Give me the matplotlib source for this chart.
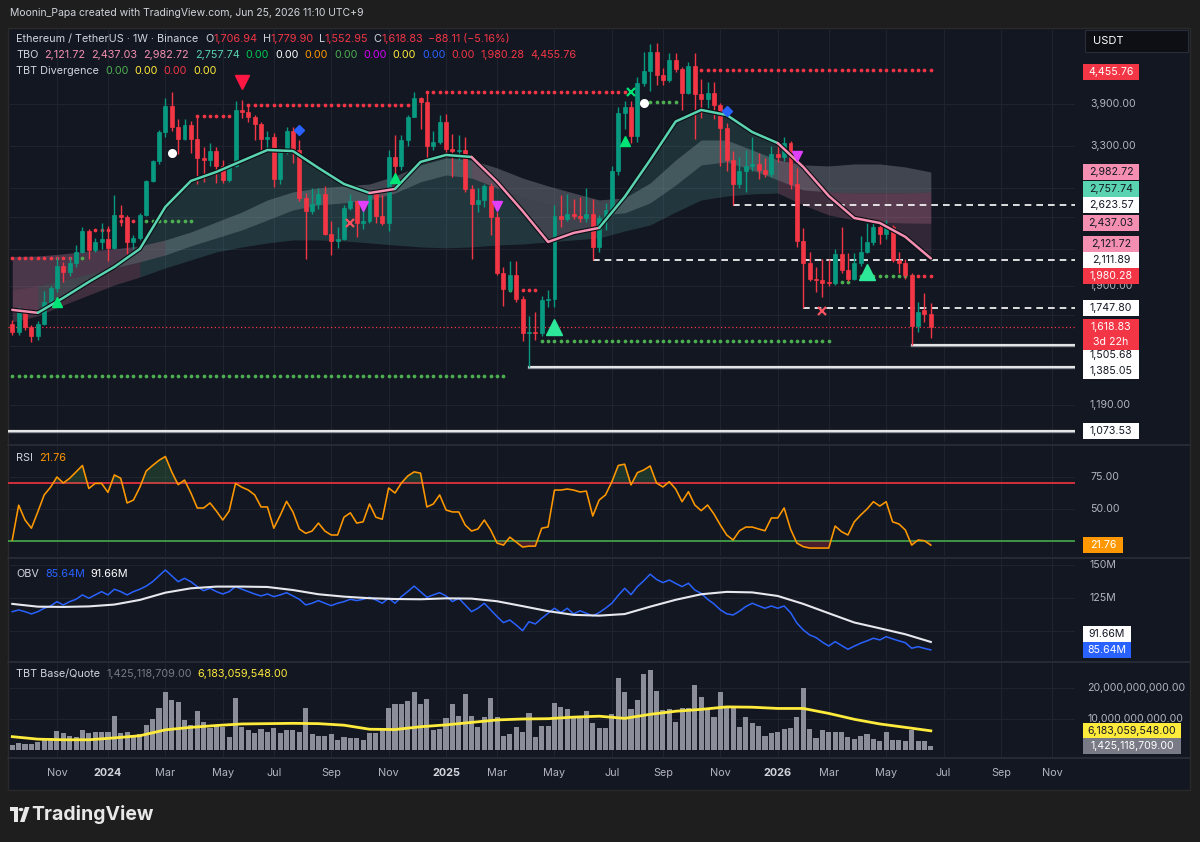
import numpy as np
import pandas as pd
import matplotlib
matplotlib.use("Agg")
import matplotlib.pyplot as plt
from matplotlib.patches import Rectangle, Polygon, Circle

W, H = 1200, 842
FONT = ["Inter", "DejaVu Sans"]
plt.rcParams["font.family"] = FONT

BG = "#131722"
FRAME = "#1e1e1e"
GRID = "#1f2330"
TXT = "#d1d4dc"
AXTXT = "#b2b5be"
UP = "#089981"
DOWN = "#f23645"
MINT = "#5ad3b0"
PINK = "#f48fb1"

# ---------------- data (weekly ETH/USDT) ----------------
first_week = "2023-09-18"

opens = [1640, 1585, 1730, 1620, 1560, 1640, 1790, 1890, 2060, 2010,
         2080, 2180, 2360, 2190, 2260, 2290, 2210, 2520, 2500, 2260,
         2300, 2520, 2880, 3110, 3490, 3870, 3560, 3400, 3590, 3400,
         3150, 3130, 3240, 3050, 2890, 3060, 3810, 3780, 3700, 3600,
         3400, 3430, 2900, 3240, 3510, 3250, 2690, 2560, 2630, 2730,
         2340, 2270, 2290, 2590, 2660, 2440, 2460, 2730, 2510, 2440,
         3160, 3050, 3380, 3710, 3990, 3930, 3300, 3360, 3640, 3270,
         3240, 3250, 2790, 2630, 2670, 2820, 2500, 2000, 1880, 1990,
         1810, 1580, 1590, 1580, 1800, 1810, 2510, 2480, 2530, 2510,
         2490, 2530, 2220, 2490, 2570, 2990, 3760, 3850, 3440, 4240,
         4450, 4790, 4370, 4280, 4640, 4480, 4070, 4530, 4050, 3980,
         4080, 3880, 3550, 3130, 2840, 3000, 3050, 3080, 3010, 2960,
         3200, 3160, 3340, 2840, 2270, 2080, 1960, 1945, 1935, 1925,
         2160, 2030, 1960, 2080, 2180, 2260, 2400, 2340, 2400, 2110,
         2080, 1990, 1625, 1730, 1706.94]
highs = [1665, 1750, 1745, 1630, 1660, 1865, 1900, 2135, 2090, 2130,
         2240, 2400, 2380, 2300, 2440, 2410, 2720, 2620, 2520, 2330,
         2540, 2890, 3130, 3520, 4000, 4090, 3680, 3680, 3650, 3730,
         3290, 3350, 3290, 3130, 3090, 3940, 3970, 3890, 3740, 3630,
         3500, 3480, 3280, 3560, 3560, 3390, 2750, 2800, 2800, 2820,
         2460, 2400, 2620, 2730, 2670, 2580, 2770, 2770, 2720, 3250,
         3450, 3450, 3740, 4090, 4010, 4110, 3500, 3740, 3750, 3460,
         3450, 3430, 2830, 2800, 2850, 2860, 2550, 2050, 2100, 2100,
         1830, 1690, 1720, 1830, 1870, 2620, 2720, 2740, 2680, 2700,
         2800, 2680, 2520, 2640, 3050, 3860, 3940, 3940, 4330, 4790,
         4950, 4960, 4490, 4770, 4770, 4510, 4600, 4760, 4300, 4250,
         4260, 3920, 3620, 3240, 3170, 3250, 3420, 3220, 3150, 3300,
         3340, 3420, 3370, 3030, 2390, 2180, 2050, 2120, 2120, 2200,
         2400, 2170, 2170, 2320, 2440, 2450, 2460, 2470, 2420, 2180,
         2120, 2000, 1790, 1850, 1779.90]
lows = [1570, 1570, 1600, 1525, 1540, 1630, 1780, 1860, 1930, 1980,
        2050, 2170, 2120, 2180, 2200, 2100, 2200, 2410, 2160, 2200,
        2280, 2510, 2870, 3080, 3420, 3510, 3200, 3380, 3210, 2850,
        2870, 3050, 2860, 2860, 2870, 3040, 3690, 3640, 3380, 3250,
        3240, 2810, 2850, 3200, 3090, 2660, 2120, 2530, 2580, 2330,
        2150, 2210, 2280, 2570, 2310, 2380, 2440, 2440, 2420, 2360,
        2960, 3010, 3300, 3700, 3540, 3100, 3250, 3330, 3160, 2920,
        3130, 2760, 2120, 2550, 2600, 2330, 1990, 1760, 1860, 1790,
        1530, 1385.05, 1540, 1560, 1750, 1750, 2400, 2460, 2480, 2450,
        2450, 2111.89, 2180, 2370, 2520, 2950, 3530, 3350, 3360, 4180,
        4100, 4210, 4210, 4260, 4430, 3810, 4050, 3400, 3690, 3840,
        3680, 3060, 2990, 2623.57, 2800, 2760, 2990, 2900, 2930, 2920,
        3100, 3120, 2790, 2220, 1747.80, 1940, 1860, 1820, 1900, 1910,
        2000, 1940, 1950, 2060, 2170, 2240, 2250, 2290, 2090, 2000,
        1960, 1505.68, 1590, 1650, 1552.95]
closes = [1585, 1730, 1620, 1560, 1640, 1790, 1890, 2060, 2010, 2080,
          2180, 2360, 2190, 2260, 2290, 2210, 2520, 2500, 2260, 2300,
          2520, 2880, 3110, 3490, 3870, 3560, 3400, 3590, 3400, 3150,
          3130, 3240, 3050, 2890, 3060, 3810, 3780, 3700, 3600, 3400,
          3430, 2900, 3240, 3510, 3250, 2690, 2560, 2630, 2730, 2340,
          2270, 2290, 2590, 2660, 2440, 2460, 2730, 2510, 2440, 3160,
          3050, 3380, 3710, 3990, 3930, 3300, 3360, 3640, 3270, 3240,
          3250, 2790, 2630, 2670, 2820, 2500, 2000, 1880, 1990, 1810,
          1580, 1590, 1580, 1800, 1810, 2510, 2480, 2530, 2510, 2490,
          2530, 2220, 2490, 2570, 2990, 3760, 3850, 3440, 4240, 4450,
          4790, 4370, 4280, 4640, 4480, 4070, 4530, 4050, 3980, 4080,
          3880, 3550, 3130, 2840, 3000, 3050, 3080, 3010, 2960, 3200,
          3160, 3340, 2840, 2270, 2080, 1960, 1945, 1925, 1925, 2160,
          2030, 1960, 2080, 2180, 2260, 2400, 2340, 2400, 2110, 2080,
          1990, 1625, 1715, 1707, 1618.83]

rsi = [25.8, 53, 41.4, 35, 47.7, 61, 67, 75, 70.3, 74,
       79, 84, 66, 70, 70, 63, 76.6, 74, 54.7, 57,
       67, 79.7, 84, 88, 91, 79, 69, 72.6, 62.5, 50.8,
       50.8, 54.7, 48.4, 41.4, 48.4, 70, 67, 64.8, 61, 51.6,
       51.6, 35, 45, 56, 47.7, 34.4, 31, 32.8, 39, 32.8,
       29.7, 29.7, 43.6, 47, 39, 40, 53.9, 43.6, 42, 66.4,
       62.5, 70.3, 75.8, 79, 78, 51.6, 53.9, 61, 49.2, 47.7,
       47.7, 37.5, 32.8, 34.4, 41.4, 33.6, 23.4, 21.8, 28, 24.2,
       20.3, 21, 21, 35, 36, 64.8, 64.8, 65.6, 64.8, 63.3,
       64, 44.5, 57, 61, 71.3, 84, 85, 68.8, 78.4, 80.5,
       83.6, 70.3, 67.2, 71.3, 65.6, 55.7, 63.5, 53.1, 48.7, 53.1,
       46.1, 37.5, 29.7, 25.8, 33, 35.9, 35.9, 34.4, 33, 43,
       43, 50.8, 34.4, 23.4, 20.6, 19.5, 19.5, 19.5, 19.5, 36.7,
       32.3, 29.7, 40, 45.3, 50, 55.7, 52.3, 55.7, 40, 38.3,
       33.6, 21.8, 25.8, 25.2, 21.76]

obv_m = [114.6, 115.9, 114.6, 112.9, 114.6, 117.2, 118.9, 122.2, 119.7, 122.2,
         124, 127.3, 124.8, 127.3, 129.8, 127.3, 131.6, 129.8, 127.3, 129.8,
         131.6, 134, 137.3, 141.7, 146.2, 141.7, 137.3, 139.9, 137.3, 133.6,
         130.5, 132.3, 129.8, 128, 129.8, 133.6, 131.6, 129.8, 128, 126.5,
         128, 126, 127.3, 129, 126.5, 124, 119.7, 121, 123, 121,
         119.2, 121, 122.2, 124, 123, 124, 125.5, 123.5, 121, 124.8,
         121, 126, 129.8, 134, 129.8, 125.5, 127.3, 129, 126.5, 122.2,
         124.8, 119.7, 114.6, 117.2, 121, 115.9, 110.9, 106.3, 108.3, 104.5,
         100.2, 107, 105.3, 109.6, 113.4, 117.2, 113.9, 117.2, 112.9, 115.3,
         113.4, 111.4, 113.9, 117.2, 121, 127, 132.3, 127.5, 133.6, 138,
         143, 139, 136.6, 138.6, 136, 133.6, 136.1, 131, 128.5, 124,
         120.5, 116, 113, 112.1, 115, 118.5, 121, 119, 117.2, 118.9,
         117.2, 118.9, 114, 106, 100.8, 97, 95, 91.5, 88.6, 91.9,
         89, 86.1, 88.5, 90.7, 92.5, 94.5, 93.2, 95.7, 94, 92.5,
         91.1, 86.9, 88.1, 86.8, 85.64]

volume_bn = [1.6, 2.2, 2.0, 2.0, 2.7, 3.8, 4.0, 6.1, 5.4, 4.5,
             4.1, 6.5, 5.4, 5.9, 5.9, 5.7, 11.1, 5.4, 5.7, 4.5,
             5.2, 8.1, 9.9, 13.6, 18.6, 16.1, 15.6, 9.7, 8.1, 12.7,
             9.1, 7.0, 8.1, 7.3, 4.3, 16.7, 7.3, 6.3, 5.4, 6.7,
             5.9, 7.0, 5.6, 6.3, 6.3, 5.9, 13.4, 5.0, 4.5, 4.5,
             5.0, 3.2, 4.3, 4.0, 4.0, 3.2, 5.4, 5.4, 6.7, 13.4,
             14.7, 14.7, 15.8, 18.6, 14.7, 16.3, 6.5, 6.7, 10.2, 14.7,
             11.0, 18.0, 11.0, 7.5, 10.6, 16.9, 10.8, 4.5, 5.2, 7.5,
             5.9, 11.8, 4.3, 7.7, 7.7, 15.3, 14.0, 13.1, 10.2, 10.2,
             12.6, 8.8, 7.0, 7.0, 11.6, 23.3, 18.7, 13.1, 16.1, 24.4,
             25.8, 19.0, 12.9, 13.1, 8.9, 13.4, 13.4, 21.0, 17.0, 12.9,
             10.8, 18.6, 14.0, 14.0, 7.3, 10.5, 8.6, 7.8, 4.5, 5.4,
             5.9, 6.7, 7.0, 10.8, 19.9, 6.7, 3.8, 6.5, 5.9, 5.7,
             5.9, 4.1, 3.4, 4.5, 5.2, 3.4, 2.9, 5.9, 3.2, 3.2,
             2.9, 6.5, 2.9, 2.9, 1.425118709]

# smooth indicator lines, read every 4th bar
tbo_fast = [1732, 1712, 1816, 1934, 2052, 2203, 2600, 2880, 2984, 3116,
            3253, 3240, 3031, 2845, 2746, 2790, 3104, 3190, 3165, 2869,
            2558, 2264, 2346, 2393, 2704, 3128, 3640, 3810, 3735, 3492,
            3343, 3043, 2714, 2488, 2440, 2310, 2121.72]
cloud_b1 = [2138, 2142, 2160, 2185, 2203, 2229, 2282, 2355, 2450, 2548,
            2672, 2758, 2801, 2823, 2845, 2936, 3067, 3152, 3128, 3031,
            2913, 2823, 2746, 2672, 2693, 2857, 3128, 3384, 3384, 3253,
            3128, 3067, 3055, 3079, 3079, 3043, 2982.72]
cloud_b2 = [1874, 1904, 1949, 1996, 2044, 2093, 2151, 2229, 2300, 2374,
            2469, 2568, 2620, 2641, 2672, 2746, 2869, 2948, 2913, 2801,
            2693, 2620, 2568, 2518, 2538, 2641, 2834, 3067, 3104, 3007,
            2891, 2779, 2758, 2746, 2746, 2746, 2757.74]
cloud_b3 = [1652, 1692, 1766, 1837, 1911, 1972, 2044, 2109, 2177, 2220,
            2255, 2282, 2282, 2273, 2255, 2237, 2220, 2212, 2220, 2237,
            2246, 2264, 2282, 2300, 2364, 2421, 2548, 2672, 2714, 2736,
            2746, 2620, 2518, 2469, 2450, 2440, 2437.03]
obv_ma = [120.5, 118.4, 118.2, 118.6, 120, 123.5, 129, 132.3, 133.6, 133.6,
          133.3, 131, 127.8, 126, 124.8, 124.2, 124, 124.7, 124.5, 122.5,
          118.8, 115, 112.2, 111.6, 112.8, 118.4, 123.6, 127.8, 129.6, 129.2,
          126.5, 120.5, 113.4, 106.4, 102, 97.5, 91.66]
vol_ma = [4.3, 3.5, 3.3, 3.3, 3.9, 4.6, 6.5, 7.3, 7.9, 8.4,
          8.5, 8.6, 8.5, 8.0, 6.7, 6.6, 7.5, 8.1, 8.9, 9.7,
          10.0, 10.1, 10.6, 10.9, 10.2, 11.5, 12.5, 13.1, 13.9, 13.8,
          13.4, 13.4, 11.8, 9.9, 8.4, 7.3, 6.183059548]

# trend state of each 4-bar segment of the fast line / cloud
fast_trend = ["dn"] + ["up"] * 13 + ["dn"] + ["up"] * 3 + ["dn"] * 5 + ["up"] * 7 + ["dn"] * 6
cloud_top_tone = ["mauve"] * 6 + ["gray"] * 30
cloud_low_tone = ["pink"] * 5 + ["teal"] * 25 + ["pink"] * 6

# dotted signal levels: price, first bar, last bar, colour
dot_levels = [
    (2125, 0, 9, "red"), (2125, 10, 11, "green"),
    (2370, 13, 15, "red"),
    (2460, 16, 19, "red"), (2460, 20, 28, "green"),
    (3720, 29, 35, "red"),
    (3885, 37, 62, "red"), (3885, 63, 63, "green"),
    (4085, 65, 96, "red"),
    (3930, 99, 104, "green"),
    (1874, 78, 78, "green"), (1874, 80, 82, "red"),
    (1531, 83, 128, "green"),
    (1335, 0, 77, "green"),
    (1933, 129, 131, "green"),
    (1980.28, 132, 141, "green"), (1980.28, 142, 144, "red"),
    (4455.76, 108, 144, "red"),
]
dashed_levels = [(2623.57, 113), (2111.89, 91), (1747.80, 124)]
solid_levels = [(1505.68, 141), (1385.05, 81), (1073.53, -1)]

signals = [
    ("sell", 36, 4253), ("drop", 25, 3215), ("drop", 99, 3915),
    ("diamond", 45, 3520), ("diamond", 112, 3794),
    ("buy_small", 7, 1786), ("buy_small", 60, 2913), ("buy_small", 96, 3371),
    ("buy_big", 85, 1619), ("buy_big", 134, 2011),
    ("bear_div", 55, 2608), ("bear_div", 76, 2608), ("bear_div", 123, 3177),
    ("cross_up", 97, 4089), ("cross_dn", 53, 2439), ("cross_dn", 127, 1724),
]

tick_months = ["2023-11", "2024-01", "2024-03", "2024-05", "2024-07", "2024-09", "2024-11",
               "2025-01", "2025-03", "2025-05", "2025-07", "2025-09", "2025-11",
               "2026-01", "2026-03", "2026-05", "2026-07", "2026-09", "2026-11"]
tick_labels = ["Nov", "2024", "Mar", "May", "Jul", "Sep", "Nov",
               "2025", "Mar", "May", "Jul", "Sep", "Nov",
               "2026", "Mar", "May", "Jul", "Sep", "Nov"]

price_grid = [1190, 1500, 1700, 1900, 2200, 2500, 2800, 3300, 3900]
price_ticks = [3900, 3300, 1900, 1190]
# right-scale tags: value, background, text colour, vertical nudge in px (down +)
price_tags = [
    (4455.76, "#f23645", "white", 2),
    (2982.72, PINK, BG, 0),
    (2757.74, MINT, BG, -3),
    (2623.57, "white", BG, 0),
    (2437.03, PINK, BG, 0),
    (2121.72, PINK, BG, -14),
    (2111.89, "white", BG, 0),
    (1980.28, "#f23645", "white", 0),
    (1747.80, "white", BG, 0),
    (1505.68, "white", BG, 10),
    (1385.05, "white", BG, 4),
    (1073.53, "white", BG, 0),
]

# ---------------- figure ----------------
opens, highs, lows, closes = map(np.array, (opens, highs, lows, closes))
rsi, obv_m, volume_bn = map(np.array, (rsi, obv_m, volume_bn))
n = len(closes)
bars = np.arange(n)
samples = np.arange(0, n, 4)
dates = pd.date_range(first_week, periods=n + 40, freq="7D")
tick_pos = [int(np.searchsorted(dates, pd.Timestamp(m))) for m in tick_months]

X0, X1 = -0.67, 166.6

fig = plt.figure(figsize=(W / 100, H / 100), dpi=100, facecolor=FRAME)
fig.add_artist(Rectangle((8 / W, 1 - 790 / H), 1182 / W, 762 / H, transform=fig.transFigure,
                         fc=BG, ec="#2a2a2a", lw=1, zorder=-5))


def panel(top, bottom):
    ax = fig.add_axes([8 / W, 1 - bottom / H, 1067 / W, (bottom - top) / H])
    ax.set_facecolor("none")
    for s in ax.spines.values():
        s.set_visible(False)
    ax.set_xlim(X0, X1)
    for t in tick_pos:
        ax.axvline(t, color=GRID, lw=0.8, zorder=0)
    return ax


def hide_ticks(ax):
    ax.tick_params(which="both", left=False, bottom=False, right=False, top=False,
                   labelleft=False, labelbottom=False)


def runs(labels):
    start = 0
    for k in range(1, len(labels) + 1):
        if k == len(labels) or labels[k] != labels[start]:
            yield start, k, labels[start]
            start = k


def tag(ax, value, text, bg, fg, dy=0, w=56, h=16, x0=1083, size=7.6, sub=None):
    y = ax.transData.transform((0, value))[1] - dy
    hh = h if sub is None else 31
    ybot = y - h / 2 if sub is None else y - 23
    fig.add_artist(Rectangle((x0 / W, ybot / H), w / W, hh / H, transform=fig.transFigure,
                             fc=bg, ec="none", zorder=6))
    fig.text((x0 + w / 2) / W, y / H, text, color=fg, fontsize=size, ha="center", va="center", zorder=7)
    if sub is not None:
        fig.text((x0 + w / 2) / W, (y - 15) / H, sub, color=fg, fontsize=size, ha="center",
                 va="center", zorder=7)


def plain(ax, value, text, x0=1090, size=7.6):
    y = ax.transData.transform((0, value))[1]
    fig.text(x0 / W, y / H, text, color=AXTXT, fontsize=size, ha="left", va="center", zorder=4)


def pieces(x_px, y_px, parts, size=7.8, weight="normal"):
    r = fig.canvas.get_renderer()
    x = x_px
    for s, col, gap in parts:
        t = fig.text(x / W, 1 - y_px / H, s, color=col, fontsize=size, ha="left", va="center",
                     weight=weight)
        x += t.get_window_extent(r).width + gap


# ---- price panel ----
ax = panel(28, 443)
ax.set_yscale("log")
ax.set_ylim(1024.6, 5263)
hide_ticks(ax)
for v in price_grid:
    ax.axhline(v, color=GRID, lw=0.8, zorder=0)

fast = np.array(tbo_fast)
b1, b2, b3 = map(np.array, (cloud_b1, cloud_b2, cloud_b3))
tone = {"mauve": "#c27ba0", "gray": "#a4a8b3", "pink": PINK, "teal": "#5fb8ad"}
for a, b, lab in runs(cloud_top_tone):
    sl = slice(a, b + 1)
    ax.fill_between(samples[sl], b1[sl], b2[sl], color=tone[lab], alpha=0.32, lw=0, zorder=1)
for a, b, lab in runs(cloud_low_tone):
    sl = slice(a, b + 1)
    ax.fill_between(samples[sl], b2[sl], b3[sl], color=tone[lab], alpha=0.2, lw=0, zorder=1)
for a, b, lab in runs(fast_trend):
    sl = slice(a, b + 1)
    c = MINT if lab == "up" else PINK
    ax.fill_between(samples[sl], fast[sl], b2[sl], color=c, alpha=0.14, lw=0, zorder=1)

dot_col = {"red": "#f23645", "green": "#4caf50"}
for p, s, e, c in dot_levels:
    xs = np.arange(s, e + 1)
    ax.plot(xs, np.full(len(xs), p), ls="none", marker="o", ms=2.7, mec="none",
            color=dot_col[c], zorder=2)
for p, s in dashed_levels:
    ax.plot([s, X1], [p, p], color="white", lw=1.2, ls=(0, (4, 3)), zorder=2)
for p, s in solid_levels:
    ax.plot([max(s, X0), X1], [p, p], color="#8a8d96", lw=2.4, zorder=2)
    ax.plot([max(s, X0), X1], [p, p], color="white", lw=1.1, zorder=2)
ax.axhline(closes[-1], color="#f23645", lw=0.9, ls=(0, (1, 2)), zorder=2)

col = np.where(closes >= opens, UP, DOWN)
ax.vlines(bars, lows, highs, colors=col, lw=1, zorder=3)
ax.bar(bars, np.abs(closes - opens), bottom=np.minimum(opens, closes), width=0.62,
       color=col, edgecolor=col, lw=0.5, zorder=3.1)

# fast TBO line with a dark halo, coloured by trend
ax.plot(samples, fast, color="#0b0e14", lw=3.4, zorder=3.9, solid_capstyle="round")
for a, b, lab in runs(fast_trend):
    sl = slice(a, b + 1)
    c = MINT if lab == "up" else PINK
    ax.plot(samples[sl], fast[sl], color=c, lw=1.8, zorder=4, solid_capstyle="round")

sig_style = {
    "sell": dict(marker="v", ms=10, color="#ff1744"),
    "drop": dict(marker="o", ms=5.5, color="white"),
    "diamond": dict(marker="D", ms=5, color="#2962ff"),
    "buy_small": dict(marker="^", ms=6.5, color="#00e676"),
    "buy_big": dict(marker="^", ms=11, color="#2ee89a"),
    "bear_div": dict(marker="v", ms=7, color="#e040fb"),
    "cross_up": dict(marker="x", ms=6, mew=1.6, color="#00e676"),
    "cross_dn": dict(marker="x", ms=6, mew=1.6, color="#f7525f"),
}
for kind, i, p in signals:
    ax.plot([i], [p], ls="none", zorder=5, **sig_style[kind])
ax_p = ax

# ---- RSI ----
ax_r = panel(446, 556)
ax_r.set_ylim(13.3, 99.2)
hide_ticks(ax_r)
for v in (75, 50):
    ax_r.axhline(v, color=GRID, lw=0.8, zorder=0)
ax_r.axhline(70, color="#e0313f", lw=1.3, zorder=1)
ax_r.axhline(25, color="#43a047", lw=1.3, zorder=1)
ax_r.fill_between(bars, rsi, 70, where=rsi > 70, interpolate=True, color="#4caf50", alpha=0.2, lw=0)
ax_r.fill_between(bars, rsi, 25, where=rsi < 25, interpolate=True, color="#f23645", alpha=0.25, lw=0)
ax_r.plot(bars, rsi, color="#ff9800", lw=1.15, zorder=2)

# ---- OBV ----
ax_o = panel(559, 660)
ax_o.set_ylim(78, 154.5)
hide_ticks(ax_o)
for v in (150, 125, 100):
    ax_o.axhline(v, color=GRID, lw=0.8, zorder=0)
ax_o.plot(bars, obv_m, color="#2962ff", lw=1.1, zorder=2)
ax_o.plot(samples, obv_ma, color="#e6e8ee", lw=1.5, zorder=3)

# ---- TBT Base/Quote volume ----
ax_v = panel(663, 757)
ax_v.set_ylim(-2.26, 28.06)
hide_ticks(ax_v)
for v in (20, 10):
    ax_v.axhline(v, color=GRID, lw=0.8, zorder=0)
ax_v.bar(bars, volume_bn, width=0.8, color="#8b8e98", zorder=2)
ax_v.plot(samples, vol_ma, color="#ffeb3b", lw=2, zorder=3)

# pane separators
for yy in (444.5, 557.5, 661.5, 757.5):
    fig.add_artist(plt.Line2D([8 / W, 1190 / W], [1 - yy / H, 1 - yy / H], color="#2a2e39",
                              lw=1.2, transform=fig.transFigure))

# ---- right scale labels ----
for v in price_ticks:
    plain(ax_p, v, f"{v:,.2f}")
for v, bg, fg, dy in price_tags:
    tag(ax_p, v, f"{v:,.2f}", bg, fg, dy)
tag(ax_p, closes[-1], f"{closes[-1]:,.2f}", "#f23645", "white", sub="3d 22h")

plain(ax_r, 75, "75.00")
plain(ax_r, 50, "50.00")
tag(ax_r, rsi[-1], f"{rsi[-1]:.2f}", "#ff9800", "white", w=40)

plain(ax_o, 150, "150M")
plain(ax_o, 125, "125M")
tag(ax_o, obv_ma[-1], f"{obv_ma[-1]:.2f}M", "white", BG, dy=-8, w=48)
tag(ax_o, obv_m[-1], f"{obv_m[-1]:.2f}M", "#2962ff", "white", w=48)

plain(ax_v, 20, "20,000,000,000.00", x0=1087)
plain(ax_v, 10, "10,000,000,000.00", x0=1087)
tag(ax_v, vol_ma[-1], f"{vol_ma[-1] * 1e9:,.2f}", "#ffeb3b", BG, w=98)
tag(ax_v, volume_bn[-1], f"{volume_bn[-1] * 1e9:,.2f}", "#787b86", "white", w=98)

# time axis
for pos, lab in zip(tick_pos, tick_labels):
    xp = ax_p.transData.transform((pos, 2000))[0]
    is_year = lab.isdigit()
    fig.text(xp / W, 1 - 773 / H, lab, color=TXT if is_year else AXTXT, fontsize=7.8,
             ha="center", va="center", weight="bold" if is_year else "normal")

# USDT box
fig.add_artist(Rectangle((1085 / W, 1 - 52 / H), 103 / W, 22 / H, transform=fig.transFigure,
                         fc="#0d0f14", ec="#2a2e39", lw=0.8, zorder=6))
fig.text(1093 / W, 1 - 41 / H, "USDT", color="white", fontsize=8, va="center", zorder=7)

# ---- header & legends ----
fig.text(10 / W, 1 - 13 / H, "Moonin_Papa created with TradingView.com, Jun 25, 2026 11:10 UTC+9",
         color=TXT, fontsize=7.5, va="center")
o, h, l, c = opens[-1], highs[-1], lows[-1], closes[-1]
pieces(16, 39, [("Ethereum / TetherUS · 1W · Binance", TXT, 7),
                ("O", TXT, 0), (f"{o:,.2f}", DOWN, 5),
                ("H", TXT, 0), (f"{h:,.2f}", DOWN, 5),
                ("L", TXT, 0), (f"{l:,.2f}", DOWN, 5),
                ("C", TXT, 0), (f"{c:,.2f}", DOWN, 5),
                ("\u221288.11 (\u22125.16%)", DOWN, 0)])
pieces(16, 55, [("TBO", TXT, 6), ("2,121.72", PINK, 6), ("2,437.03", PINK, 6),
                ("2,982.72", PINK, 6), ("2,757.74", MINT, 6), ("0.00", "#00c853", 6),
                ("0.00", "white", 6), ("0.00", "#ff9800", 6), ("0.00", "#4caf50", 6),
                ("0.00", "#d500f9", 6), ("0.00", "#ffeb3b", 6), ("0.00", "#2962ff", 6),
                ("0.00", DOWN, 6), ("1,980.28", DOWN, 6), ("4,455.76", DOWN, 6)])
pieces(16, 71, [("TBT Divergence", TXT, 6), ("0.00", "#4caf50", 6), ("0.00", "#ffeb3b", 6),
                ("0.00", DOWN, 6), ("0.00", "#ffeb3b", 6)])
pieces(16, 458, [("RSI", TXT, 6), (f"{rsi[-1]:.2f}", "#ff9800", 0)])
pieces(16, 574, [("OBV", TXT, 6), (f"{obv_m[-1]:.2f}M", "#2962ff", 6),
                 (f"{obv_ma[-1]:.2f}M", "white", 0)])
pieces(16, 674, [("TBT Base/Quote", TXT, 6), (f"{volume_bn[-1] * 1e9:,.2f}", "#787b86", 6),
                 (f"{vol_ma[-1] * 1e9:,.2f}", "#ffeb3b", 0)])

# ---- TradingView logo ----
logo = "#e8e8e8"
fig.add_artist(Rectangle((10 / W, 1 - 811 / H), 8 / W, 4 / H, transform=fig.transFigure, fc=logo, ec="none"))
fig.add_artist(Rectangle((14 / W, 1 - 822 / H), 4 / W, 15 / H, transform=fig.transFigure, fc=logo, ec="none"))
fig.add_artist(Circle((21 / W, 1 - 809.5 / H), 2.4 / W, transform=fig.transFigure, fc=logo, ec="none"))
fig.add_artist(Polygon([(20 / W, 1 - 822 / H), (25 / W, 1 - 807 / H), (29.5 / W, 1 - 807 / H),
                        (24.5 / W, 1 - 822 / H)], closed=True, transform=fig.transFigure, fc=logo, ec="none"))
fig.text(31 / W, 1 - 815 / H, "TradingView", color=logo, fontsize=14, weight="bold", va="center")

fig.savefig("out.png", dpi=100, facecolor=FRAME)
